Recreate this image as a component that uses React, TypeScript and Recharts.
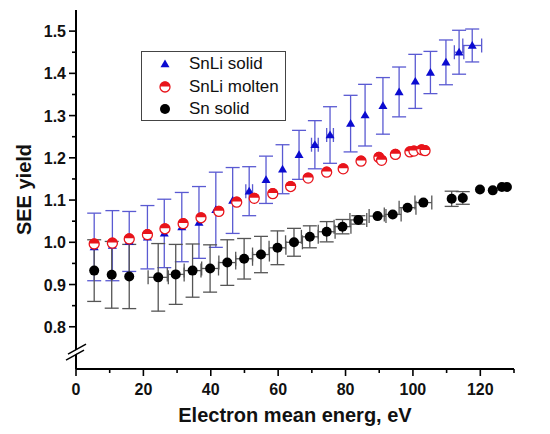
import {
  ScatterChart,
  Scatter,
  XAxis,
  YAxis,
  ErrorBar,
  Legend,
  ReferenceDot,
} from 'recharts';

const FONT = '"Liberation Sans", Arial, Helvetica, sans-serif';

// SnLi solid (blue triangles)
const snliSolidX = [5.4, 10.8, 15.8, 21.2, 26.2, 31.4, 36.5, 41.5, 46.5, 51.4, 56.4, 61.3, 66.2, 70.9, 75.4, 81.5, 85.8, 91.1, 95.9, 100.7, 105.2, 109.8, 113.7, 117.6];
const snliSolidY = [0.989, 0.992, 1.002, 1.012, 1.021, 1.036, 1.047, 1.077, 1.099, 1.121, 1.148, 1.173, 1.207, 1.231, 1.254, 1.281, 1.301, 1.323, 1.356, 1.381, 1.402, 1.426, 1.45, 1.466];
const snliSolidErr = [0.08, 0.083, 0.071, 0.075, 0.081, 0.082, 0.085, 0.089, 0.078, 0.058, 0.056, 0.058, 0.058, 0.057, 0.067, 0.067, 0.073, 0.067, 0.059, 0.064, 0.05, 0.053, 0.052, 0.039];
const snliSolidXErr = [0, 0, 0, 0, 0, 0, 0, 0, 0, 1, 0, 0, 0, 1, 1, 0, 0, 0, 0, 0, 0, 0, 1.4, 2.8];

// SnLi molten (red half-filled circles)
const snliMoltenX = [5.4, 10.8, 15.8, 21.2, 26.4, 31.8, 37.1, 42.4, 47.7, 52.9, 58.4, 63.7, 68.9, 74.4, 79.3, 84.6, 89.9, 90.7, 94.8, 99.1, 100.3, 102.6, 103.6];
const snliMoltenY = [0.996, 0.998, 1.008, 1.018, 1.032, 1.044, 1.058, 1.073, 1.095, 1.104, 1.115, 1.132, 1.152, 1.166, 1.174, 1.192, 1.201, 1.194, 1.208, 1.214, 1.216, 1.219, 1.217];

// Sn solid (black circles)
const snSolidX = [5.4, 10.6, 15.8, 24.4, 29.6, 34.6, 39.8, 44.9, 49.9, 54.9, 59.8, 64.7, 69.4, 74.4, 79.1, 83.8, 89.5, 94, 98.4, 103.1, 111.5, 114.8, 119.9, 123.7, 126.4, 127.9];
const snSolidY = [0.933, 0.923, 0.919, 0.917, 0.924, 0.933, 0.938, 0.952, 0.961, 0.971, 0.987, 1.0, 1.013, 1.025, 1.037, 1.053, 1.062, 1.066, 1.082, 1.094, 1.103, 1.105, 1.125, 1.123, 1.131, 1.131];
const snSolidErr = [0.073, 0.079, 0.076, 0.08, 0.071, 0.063, 0.056, 0.054, 0.048, 0.043, 0.04, 0.033, 0.026, 0.024, 0.017, 0.01, 0, 0, 0, 0, 0.018, 0.015, 0, 0, 0, 0];
const snSolidXErr = [0, 0, 0, 3, 2.5, 2.5, 2.5, 2.5, 2.5, 2.5, 2.5, 2.5, 2.5, 2.5, 2.5, 2.5, 2.5, 2.5, 2.5, 2.5, 0, 0, 0, 0, 0, 0];

const xTicks = [0, 10, 20, 30, 40, 50, 60, 70, 80, 90, 100, 110, 120, 130];
const yTicksLeft = [0.8, 0.85, 0.9, 0.95, 1.0, 1.05, 1.1, 1.15, 1.2, 1.25, 1.3, 1.35, 1.4, 1.45, 1.5];
const yTicksRight = [0.75, 0.8, 0.85, 0.9, 0.95, 1.0, 1.05, 1.1, 1.15, 1.2, 1.25, 1.3, 1.35, 1.4, 1.45, 1.5];

const snliSolid = snliSolidX.map((x, i) => ({ x, y: snliSolidY[i], yErr: snliSolidErr[i], xErr: snliSolidXErr[i] }));
const snliMolten = snliMoltenX.map((x, i) => ({ x, y: snliMoltenY[i] }));
const snSolid = snSolidX.map((x, i) => ({ x, y: snSolidY[i], yErr: snSolidErr[i], xErr: snSolidXErr[i] }));

const BLUE = '#0b0bd0';
const BLUE_ERR = '#5a5ad2';
const RED = '#e8141b';

const isMajorY = (v: number) => Math.abs(v * 10 - Math.round(v * 10)) < 1e-6;

const BottomTick = (props: any) => {
  const { x, y, payload } = props;
  const major = payload.value % 20 === 0;
  return (
    <g>
      <line x1={x} y1={y} x2={x} y2={y + (major ? 7 : 4)} stroke="#000" strokeWidth={1.6} />
      {major && (
        <text x={x} y={y + 26} textAnchor="middle" fontSize={16} fontWeight="bold" fontFamily={FONT} fill="#111">
          {payload.value}
        </text>
      )}
    </g>
  );
};

const TopTick = (props: any) => {
  const { x, y, payload } = props;
  const major = payload.value % 20 === 0;
  return <line x1={x} y1={y} x2={x} y2={y + (major ? 6 : 4)} stroke="#000" strokeWidth={1.6} />;
};

const LeftTick = (props: any) => {
  const { x, y, payload } = props;
  const major = isMajorY(payload.value);
  return (
    <g>
      <line x1={x} y1={y} x2={x - (major ? 7 : 4)} y2={y} stroke="#000" strokeWidth={1.6} />
      {major && (
        <text x={x - 10} y={y + 6} textAnchor="end" fontSize={16} fontWeight="bold" fontFamily={FONT} fill="#111">
          {payload.value.toFixed(1)}
        </text>
      )}
    </g>
  );
};

const RightTick = (props: any) => {
  const { x, y } = props;
  return <line x1={x} y1={y} x2={x - 6} y2={y} stroke="#000" strokeWidth={1.6} />;
};

const Triangle = (props: any) => {
  const { cx, cy } = props;
  return <polygon points={`${cx},${cy - 4.5} ${cx + 4.5},${cy + 3.2} ${cx - 4.5},${cy + 3.2}`} fill={BLUE} />;
};

const HalfCircle = (props: any) => {
  const { cx, cy } = props;
  const r = 5;
  return (
    <g>
      <circle cx={cx} cy={cy} r={r} fill="#fff" stroke={RED} strokeWidth={1.3} />
      <path d={`M${cx - r},${cy - 0.6} A${r},${r} 0 0 1 ${cx + r},${cy - 0.6} Z`} fill={RED} />
    </g>
  );
};

const Dot = (props: any) => {
  const { cx, cy } = props;
  return <circle cx={cx} cy={cy} r={5} fill="#000" />;
};

const AxisBreak = (props: any) => {
  const { cx, cy } = props;
  return (
    <g>
      <polygon points={`${cx - 9},${cy + 7} ${cx + 9},${cy - 3} ${cx + 9},${cy - 7} ${cx - 9},${cy + 3}`} fill="#fff" />
      <line x1={cx - 10} y1={cy + 8} x2={cx + 8} y2={cy - 2} stroke="#000" strokeWidth={1.5} />
      <line x1={cx - 8} y1={cy + 2} x2={cx + 10} y2={cy - 8} stroke="#000" strokeWidth={1.5} />
    </g>
  );
};

const legendItems = [
  { name: 'SnLi solid', icon: <polygon points="8,3.5 12.5,11.2 3.5,11.2" fill={BLUE} /> },
  {
    name: 'SnLi molten',
    icon: (
      <g>
        <circle cx={8} cy={8} r={5} fill="#fff" stroke={RED} strokeWidth={1.3} />
        <path d="M3,7.4 A5,5 0 0 1 13,7.4 Z" fill={RED} />
      </g>
    ),
  },
  { name: 'Sn solid', icon: <circle cx={8} cy={8} r={5} fill="#000" /> },
];

const LegendBox = () => (
  <div
    style={{
      width: 145,
      height: 70,
      boxSizing: 'border-box',
      border: '1px solid #444',
      background: '#fff',
      paddingTop: 1,
      fontFamily: FONT,
      fontSize: 17,
      color: '#111',
    }}
  >
    {legendItems.map((item) => (
      <div key={item.name} style={{ height: 22.5, display: 'flex', alignItems: 'center' }}>
        <svg width={16} height={16} style={{ marginLeft: 15, marginRight: 16 }}>
          {item.icon}
        </svg>
        <span>{item.name}</span>
      </div>
    ))}
  </div>
);

const App = () => {
  return (
    <div style={{ position: 'absolute', left: 0, top: 0, background: '#fff' }}>
      <ScatterChart width={550} height={434} margin={{ top: 10, right: 36, bottom: 0, left: 0 }}>
        <XAxis
          xAxisId="bottom"
          type="number"
          dataKey="x"
          domain={[0, 130]}
          ticks={xTicks}
          interval={0}
          height={65}
          tickSize={0}
          tickMargin={0}
          tickLine={false}
          tick={<BottomTick />}
          axisLine={{ stroke: '#000', strokeWidth: 2 }}
          label={{
            value: 'Electron mean energ, eV',
            position: 'insideBottom',
            offset: 12,
            fontSize: 20,
            fontWeight: 'bold',
            fontFamily: FONT,
            fill: '#111',
          }}
        />
        <XAxis
          xAxisId="top"
          orientation="top"
          type="number"
          dataKey="x"
          domain={[0, 130]}
          ticks={xTicks}
          interval={0}
          height={0}
          tickSize={0}
          tickMargin={0}
          tickLine={false}
          tick={<TopTick />}
          axisLine={{ stroke: '#000', strokeWidth: 2 }}
        />
        <YAxis
          yAxisId="left"
          type="number"
          dataKey="y"
          domain={[0.7, 1.55]}
          ticks={yTicksLeft}
          interval={0}
          width={76}
          tickSize={0}
          tickMargin={0}
          tickLine={false}
          tick={<LeftTick />}
          axisLine={{ stroke: '#000', strokeWidth: 2 }}
          label={{
            value: 'SEE yield',
            angle: -90,
            position: 'insideLeft',
            offset: 24,
            textAnchor: 'middle',
            style: { textAnchor: 'middle' },
            fontSize: 20,
            fontWeight: 'bold',
            fontFamily: FONT,
            fill: '#111',
          }}
        />
        <YAxis
          yAxisId="right"
          orientation="right"
          type="number"
          dataKey="y"
          domain={[0.7, 1.55]}
          ticks={yTicksRight}
          interval={0}
          width={0}
          tickSize={0}
          tickMargin={0}
          tickLine={false}
          tick={<RightTick />}
          axisLine={{ stroke: '#000', strokeWidth: 2 }}
        />
        <Legend
          layout="vertical"
          align="center"
          verticalAlign="middle"
          content={<LegendBox />}
          wrapperStyle={{ left: 141, top: 51, width: 145, height: 70 }}
        />
        <Scatter
          name="SnLi solid"
          data={snliSolid}
          xAxisId="bottom"
          yAxisId="left"
          shape={<Triangle />}
          isAnimationActive={false}
        >
          <ErrorBar dataKey="yErr" direction="y" width={7} stroke={BLUE_ERR} strokeWidth={1.3} isAnimationActive={false} />
          <ErrorBar dataKey="xErr" direction="x" width={7} stroke={BLUE_ERR} strokeWidth={1.3} isAnimationActive={false} />
        </Scatter>
        <Scatter
          name="SnLi molten"
          data={snliMolten}
          xAxisId="bottom"
          yAxisId="left"
          shape={<HalfCircle />}
          isAnimationActive={false}
        />
        <Scatter
          name="Sn solid"
          data={snSolid}
          xAxisId="bottom"
          yAxisId="left"
          shape={<Dot />}
          isAnimationActive={false}
        >
          <ErrorBar dataKey="yErr" direction="y" width={7} stroke="#555" strokeWidth={1.3} isAnimationActive={false} />
          <ErrorBar dataKey="xErr" direction="x" width={7} stroke="#555" strokeWidth={1.3} isAnimationActive={false} />
        </Scatter>
        <ReferenceDot
          x={0}
          y={0.74}
          xAxisId="bottom"
          yAxisId="left"
          ifOverflow="visible"
          shape={<AxisBreak />}
        />
      </ScatterChart>
    </div>
  );
};

export default App;
